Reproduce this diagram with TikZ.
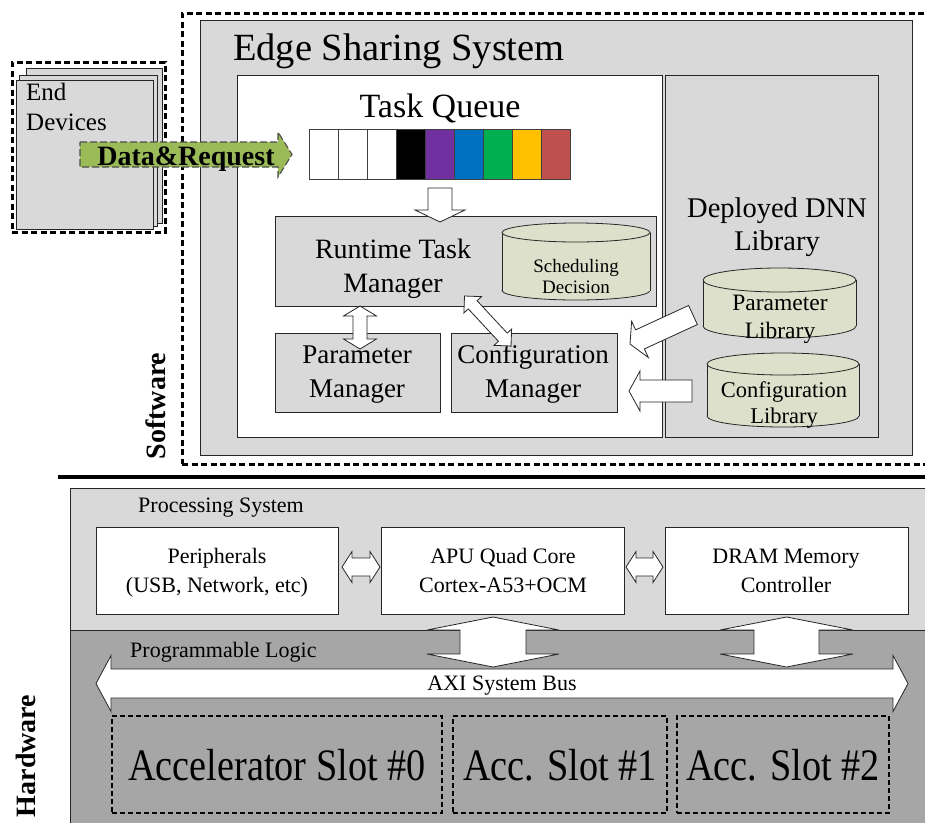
\documentclass[tikz,border=0pt]{standalone}
\usepackage{fontspec}
\setmainfont{Liberation Serif}
\usepackage{graphicx}
\usetikzlibrary{calc,fit}

\definecolor{boxgray}{HTML}{D9D9D9}
\definecolor{plgray}{HTML}{A6A6A6}
\definecolor{cylfill}{HTML}{DDE1CB}
\definecolor{reqgreen}{HTML}{9BBB59}
\definecolor{qpurple}{HTML}{7030A0}
\definecolor{qblue}{HTML}{0070C0}
\definecolor{qgreen}{HTML}{00B050}
\definecolor{qyellow}{HTML}{FFC000}
\definecolor{qred}{HTML}{C0504D}

\newcommand\txtsz[1]{\fontsize{#1}{#1}\selectfont}

% single block arrow: [style]{tail}{tip}{shaft half width}{head half width}{head length}
\newcommand\blkarrow[6][]{%
  \coordinate (bkH) at ($(#3)!#6pt!(#2)$);
  \draw[blk,#1] ($(#2)!#4pt!90:(#3)$) -- ($(bkH)!#4pt!90:(#3)$) -- ($(bkH)!#5pt!90:(#3)$)
    -- (#3) -- ($(bkH)!#5pt!-90:(#3)$) -- ($(bkH)!#4pt!-90:(#3)$) -- ($(#2)!#4pt!-90:(#3)$) -- cycle;}
% double block arrow: [style]{end A}{end B}{shaft half width}{head half width}{head length}
\newcommand\blkdarrow[6][]{%
  \coordinate (bkA) at ($(#2)!#6pt!(#3)$);
  \coordinate (bkB) at ($(#3)!#6pt!(#2)$);
  \draw[blk,#1] (#2) -- ($(bkA)!#5pt!90:(#3)$) -- ($(bkA)!#4pt!90:(#3)$) -- ($(bkB)!#4pt!90:(#3)$)
    -- ($(bkB)!#5pt!90:(#3)$) -- (#3) -- ($(bkB)!#5pt!-90:(#3)$) -- ($(bkB)!#4pt!-90:(#3)$)
    -- ($(bkA)!#4pt!-90:(#3)$) -- ($(bkA)!#5pt!-90:(#3)$) -- cycle;}
% database cylinder: {name}{centre x}{x radius}{top}{bottom}{y radius}
\newcommand\dbcyl[6]{%
  \filldraw[cyl] (#2,{#5-#6}) ellipse [x radius=#3pt, y radius=#6pt];
  \fill[cylfill] ({#2-#3},{#4+#6}) rectangle ({#2+#3},{#5-#6});
  \draw[cyl] ({#2-#3},{#4+#6}) -- ({#2-#3},{#5-#6}) ({#2+#3},{#4+#6}) -- ({#2+#3},{#5-#6});
  \filldraw[cyl] (#2,{#4+#6}) ellipse [x radius=#3pt, y radius=#6pt];
  \node[fit={({#2-#3},#4) ({#2+#3},#5)}, inner sep=0pt] (#1) {};}

\begin{document}
\begin{tikzpicture}[x=1pt,y=-1pt,
  box/.style={draw=black!85, line width=0.8pt, inner sep=0pt, outer sep=0pt},
  dotbox/.style={draw=black, line width=3pt, dash pattern=on 6pt off 3.5pt, inner sep=0pt},
  slotbox/.style={draw=black, line width=2pt, dash pattern=on 5pt off 3pt, inner sep=0pt},
  blk/.style={draw=black!85, line width=0.8pt, fill=white, line join=miter},
  cyl/.style={draw=black!85, line width=0.8pt, fill=cylfill},
  qcell/.style={draw=black!75, line width=0.8pt, inner sep=0pt},
  txt/.style={inner sep=0pt, anchor=base},
  txtw/.style={inner sep=0pt, anchor=base west},
  req/.style={draw=black!70, line width=1.1pt, dash pattern=on 7pt off 3pt, fill=reqgreen}]
\useasboundingbox (0,0) rectangle (925,822);

% ---------------- software side ----------------
\node[dotbox, fit={(182,13) (945,464)}] (swzone) {};
\node[box, fill=boxgray, fit={(200,20) (912,455)}] (esys) {};
\node[txtw, font=\txtsz{38.5}] (esystitle) at (233,60) {Edge Sharing System};
\node[box, fill=white, fit={(237,75) (662,437)}] (core) {};
\node[box, fill=boxgray, fit={(665,75) (878,437)}] (dnn) {};

% end devices
\node[dotbox, fit={(12,62) (165,232)}] (devzone) {};
\node[box, fill=boxgray, fit={(26,68) (162,223)}] (dev3) {};
\node[box, fill=boxgray, fit={(19,75) (157,226)}] (dev2) {};
\node[box, fill=boxgray, fit={(16,80) (153,229)}] (dev1) {};
\node[txtw, font=\txtsz{25}] (devt1) at (26,100) {End};
\node[txtw, font=\txtsz{25}] (devt2) at (26,130) {Devices};

% task queue
\node[txt, font=\txtsz{34}] (qtitle) at (440,117) {Task Queue};
\foreach \c [count=\i from 0] in {white,white,white,black,qpurple,qblue,qgreen,qyellow,qred}
  \node[qcell, fill=\c, fit={({309+29*\i},129) ({338+29*\i},179)}] (q\i) {};

% runtime task manager
\node[box, fill=boxgray, fit={(275,216) (656,306)}] (rtm) {};
\node[txt, font=\txtsz{28}] (rtmt1) at (393,258) {Runtime Task};
\node[txt, font=\txtsz{28}] (rtmt2) at (393,292) {Manager};
\dbcyl{sched}{576}{74}{223}{300}{9.5}
\node[txt, font=\txtsz{19}] (schedt1) at (576,272) {Scheduling};
\node[txt, font=\txtsz{19}] (schedt2) at (576,293) {Decision};

% parameter / configuration managers
\node[box, fill=boxgray, fit={(275,333) (440,412)}] (pm) {};
\node[txt, font=\txtsz{27}] (pmt1) at (357,363) {Parameter};
\node[txt, font=\txtsz{27}] (pmt2) at (357,397) {Manager};
\node[box, fill=boxgray, fit={(451,333) (617,412)}] (cm) {};
\node[txt, font=\txtsz{27}] (cmt1) at (533,363) {Configuration};
\node[txt, font=\txtsz{27}] (cmt2) at (533,397) {Manager};

% deployed DNN library
\node[txt, font=\txtsz{28.5}] (dnnt1) at (777,217) {Deployed DNN};
\node[txt, font=\txtsz{28.5}] (dnnt2) at (777,250) {Library};
\dbcyl{plib}{779.5}{76.5}{268}{338}{12}
\node[txt, font=\txtsz{23.5}] (plibt1) at (780,310) {Parameter};
\node[txt, font=\txtsz{23.5}] (plibt2) at (780,338) {Library};
\dbcyl{clib}{783}{76}{353}{427}{11}
\node[txt, font=\txtsz{22.5}] (clibt1) at (784,397) {Configuration};
\node[txt, font=\txtsz{22.5}] (clibt2) at (784,423) {Library};

% block arrows of the software side
\coordinate (qout) at (440,188);   \coordinate (rtmin) at (440,222);
\blkarrow{qout}{rtmin}{12}{25}{12}
\coordinate (rtmpm) at (360,306);  \coordinate (pmrtm) at (360,349);
\blkdarrow{rtmpm}{pmrtm}{7}{16.5}{10}
\coordinate (rtmcm) at (464.5,296); \coordinate (cmrtm) at (511,346);
\blkdarrow{rtmcm}{cmrtm}{6}{12}{12}
\coordinate (plibout) at (693,315); \coordinate (cmpin) at (630,344);
\blkarrow{plibout}{cmpin}{10.5}{20}{11}
\coordinate (clibout) at (692,391); \coordinate (cmcin) at (629,391);
\blkarrow{clibout}{cmcin}{11}{20}{11}

% data & request arrow
\coordinate (reqfrom) at (80,154.5); \coordinate (reqto) at (292,154.5);
\blkarrow[req]{reqfrom}{reqto}{12.5}{22.5}{14}
\node[txt, font=\bfseries\txtsz{28}] (reqt) at (186,165) {Data\&Request};

\node[txt, rotate=90, font=\bfseries\txtsz{28}] (swlabel) at (165,406) {Software};

% ---------------- divider ----------------
\coordinate (divl) at (58,477); \coordinate (divr) at (940,477);
\draw[line width=4.5pt] (divl) -- (divr);

% ---------------- hardware side ----------------
\node[box, fill=boxgray, fit={(70,488) (945,630)}] (ps) {};
\node[box, fill=plgray, fit={(70,630) (945,835)}] (pl) {};
\node[txtw, font=\txtsz{22}] (pst) at (138,512) {Processing System};

\node[box, fill=white, fit={(96,527) (338,614)}] (per) {};
\node[txt, font=\txtsz{22}] (pert1) at (217,563) {Peripherals};
\node[txt, font=\txtsz{22}] (pert2) at (217,592) {(USB, Network, etc)};
\node[box, fill=white, fit={(381,527) (624,614)}] (apu) {};
\node[txt, font=\txtsz{22}] (aput1) at (503,563) {APU Quad Core};
\node[txt, font=\txtsz{22}] (aput2) at (503,592) {Cortex-A53+OCM};
\node[box, fill=white, fit={(665,527) (908,614)}] (dram) {};
\node[txt, font=\txtsz{22}] (dramt1) at (786,563) {DRAM Memory};
\node[txt, font=\txtsz{22}] (dramt2) at (786,592) {Controller};

\coordinate (perr) at (342,567); \coordinate (apul) at (380,567);
\blkdarrow{perr}{apul}{9}{15.5}{10}
\coordinate (apur) at (626,567); \coordinate (draml) at (663,567);
\blkdarrow{apur}{draml}{9}{15.5}{10}

\node[txtw, font=\txtsz{22}] (plt) at (130,657) {Programmable Logic};

% AXI bus and the links into it
\coordinate (axil) at (96,683.5); \coordinate (axir) at (908,683.5);
\blkdarrow{axil}{axir}{14.5}{28}{15}
\node[txt, font=\txtsz{22}] (axit) at (502,690) {AXI System Bus};
\coordinate (apub) at (493,617); \coordinate (axiapu) at (493,667);
\blkdarrow{apub}{axiapu}{33}{66}{13}
\coordinate (dramb) at (786.5,617); \coordinate (axidram) at (786.5,667);
\blkdarrow{dramb}{axidram}{32.5}{66.5}{13}

% accelerator slots
\node[slotbox, fit={(112,716) (442,813)}] (slot0) {};
\node[txt] (slot0t) at (277,780) {\scalebox{0.85}[1]{\txtsz{45}Accelerator Slot \#0}};
\node[slotbox, fit={(453,716) (667,813)}] (slot1) {};
\node[txt] (slot1t) at (560,780) {\scalebox{0.85}[1]{\txtsz{45}Acc. Slot \#1}};
\node[slotbox, fit={(677,716) (889,813)}] (slot2) {};
\node[txt] (slot2t) at (783,780) {\scalebox{0.85}[1]{\txtsz{45}Acc. Slot \#2}};

\node[txt, rotate=90, font=\bfseries\txtsz{28}] (hwlabel) at (35,756) {Hardware};
\end{tikzpicture}
\end{document}
